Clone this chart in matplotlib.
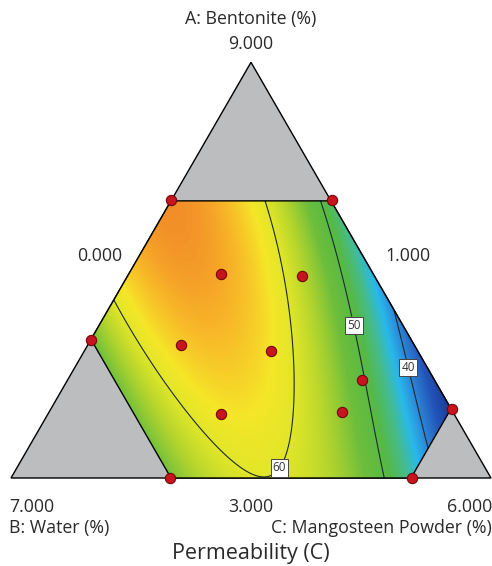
import numpy as np
import matplotlib
matplotlib.use("Agg")
import matplotlib.pyplot as plt
from matplotlib.colors import LinearSegmentedColormap, Normalize
from matplotlib.patches import Polygon

plt.rcParams["font.family"] = ["Open Sans", "DejaVu Sans"]

SQ = np.sqrt(3) / 2

# design points, pseudo fractions of A and C (B = 1 - A - C)
design_a = [0.668, 0.668, 0.332, 0.0, 0.0, 0.166, 0.490, 0.486, 0.320, 0.305, 0.154, 0.159, 0.236]
design_c = [0.0, 0.335, 0.0, 0.331, 0.835, 0.836, 0.193, 0.363, 0.194, 0.389, 0.360, 0.610, 0.613]
design_y = [67.5, 47.5, 54.0, 53.0, 45.0, 32.0, 67.5, 56.5, 63.0, 62.0, 62.5, 54.0, 50.0]

# contour traces
trace60_a = [0.445, 0.356, 0.276, 0.156, 0.060, 0.005, 0.038, 0.115, 0.212, 0.344, 0.469, 0.596, 0.668]
trace60_c = [0.000, 0.087, 0.166, 0.289, 0.420, 0.523, 0.562, 0.538, 0.492, 0.418, 0.330, 0.242, 0.191]
trace50_a = [0.668, 0.572, 0.469, 0.373, 0.236, 0.115, 0.0]
trace50_c = [0.310, 0.385, 0.466, 0.535, 0.616, 0.701, 0.779]
trace40_a = [0.416, 0.315, 0.195, 0.072]
trace40_c = [0.584, 0.659, 0.740, 0.831]
contour_levels = [40, 50, 60]

# constraint region corners (A, C)
region_a = [2 / 3, 2 / 3, 1 / 6, 0.0, 0.0, 1 / 3]
region_c = [0.0, 1 / 3, 5 / 6, 5 / 6, 1 / 3, 0.0]

# colour scale stops (value, rgb)
cmap_vals = [31, 36, 40, 43, 46, 49, 53, 57, 60, 62, 65, 68]
cmap_rgb = ["#19378f", "#2355b9", "#2d87d7", "#28b9eb", "#46bc8c", "#55b946",
            "#6ebe3c", "#b4d52d", "#e1e628", "#f5e628", "#f8b428", "#f08228"]


def to_xy(a, c):
    a = np.asarray(a, float)
    c = np.asarray(c, float)
    return c + a / 2, a * SQ


def terms(a, b, c):
    # full cubic Scheffe mixture model
    return np.stack([a, b, c, a * b, a * c, b * c, a * b * c,
                     a * b * (a - b), a * c * (a - c), b * c * (b - c)], axis=-1)


# fit the model to the read values
fa = np.concatenate([design_a, trace60_a, trace50_a, trace40_a])
fc = np.concatenate([design_c, trace60_c, trace50_c, trace40_c])
fy = np.concatenate([design_y, [60] * len(trace60_a), [50] * len(trace50_a), [40] * len(trace40_a)])
coef, *_ = np.linalg.lstsq(terms(fa, 1 - fa - fc, fc), fy, rcond=None)

xs = np.linspace(0, 1, 700)
ys = np.linspace(0, SQ, 610)
X, Y = np.meshgrid(xs, ys)
A = Y / SQ
C = X - A / 2
B = 1 - A - C
Z = terms(A, B, C) @ coef

lo, hi = cmap_vals[0], cmap_vals[-1]
cmap = LinearSegmentedColormap.from_list(
    "de", [((v - lo) / (hi - lo), col) for v, col in zip(cmap_vals, cmap_rgb)])
norm = Normalize(vmin=lo, vmax=hi, clip=True)

fig = plt.figure(figsize=(4.92, 5.66), dpi=100)
ax = fig.add_axes([0, 0, 1, 1])
ax.set_xlim(-11 / 480, 481 / 480)
ax.set_ylim(-88 / 480, 478 / 480)
ax.axis("off")

outer = Polygon([(0, 0), (1, 0), (0.5, SQ)], closed=True, fc="#bcbdbf", ec="k", lw=1.0, zorder=0)
ax.add_patch(outer)

hx, hy = to_xy(region_a, region_c)
hexagon = Polygon(np.column_stack([hx, hy]), closed=True, fc="none", ec="k", lw=1.0, zorder=4)
ax.add_patch(hexagon)

im = ax.imshow(Z, extent=[0, 1, 0, SQ], origin="lower", cmap=cmap, norm=norm,
               interpolation="bilinear", aspect="auto", zorder=1)
im.set_clip_path(hexagon)

cs = ax.contour(X, Y, Z, levels=contour_levels, colors="#1c2a2c", linewidths=0.8, zorder=2)
cs.set_clip_path(hexagon)
lab_pos = [(0.829, 0.231), (0.717, 0.319), (0.554, 0.025)]
labels = ax.clabel(cs, contour_levels, manual=lab_pos, inline=True, inline_spacing=2,
                   fmt="%d", fontsize=8.5, colors="#333333")
for t in labels:
    t.set_rotation(0)
    t.set_fontsize(8.5)
    t.set_bbox(dict(facecolor="white", edgecolor="#444444", pad=1.5, lw=0.7))
    t.set_zorder(6)

px, py = to_xy(design_a, design_c)
ax.scatter(px, py, s=55, c="#c8141e", edgecolors="#6e0a0a", linewidths=0.8, zorder=7, clip_on=False)

tk = dict(fontsize=12.8, color="#2a2a2a")
ax.text(0.5, 0.956, "A: Bentonite (%)", ha="center", va="center", **tk)
ax.text(0.5, 0.904, "9.000", ha="center", va="center", **tk)
ax.text(0.185, 0.462, "0.000", ha="center", va="center", **tk)
ax.text(0.827, 0.462, "1.000", ha="center", va="center", **tk)
ax.text(-0.004, -0.060, "7.000", ha="left", va="center", **tk)
ax.text(-0.004, -0.104, "B: Water (%)", ha="left", va="center", **tk)
ax.text(0.5, -0.060, "3.000", ha="center", va="center", **tk)
ax.text(1.002, -0.060, "6.000", ha="right", va="center", **tk)
ax.text(1.002, -0.104, "C: Mangosteen Powder (%)", ha="right", va="center", **tk)
ax.text(0.5, -0.158, "Permeability (C)", ha="center", va="center", fontsize=15.5, color="#2a2a2a")

fig.savefig("out.png", dpi=100)
